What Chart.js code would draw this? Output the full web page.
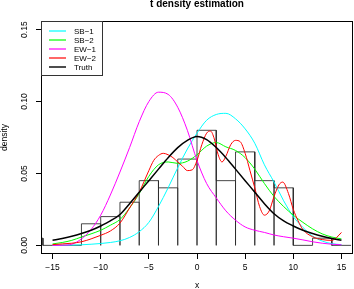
<!DOCTYPE html>
<html>
<head>
<meta charset="utf-8">
<script src="https://cdn.jsdelivr.net/npm/chart.js@4.4.0/dist/chart.umd.min.js"></script>
<style>
  html, body { margin: 0; padding: 0; background: #fff; }
  canvas { display: block; }
</style>
</head>
<body>
<canvas id="chart" width="354" height="289"></canvas>
<script>
'use strict';

var FONT = '"Liberation Sans", Arial, Helvetica, sans-serif';

// histogram of the sample (density scale), bins of width 2
var binEdges = [-18, -16, -14, -12, -10, -8, -6, -4, -2, 0, 2, 4, 6, 8, 10, 12, 14, 16];
var binDensity = [0.005, 0, 0, 0.015, 0.02, 0.03, 0.045, 0.04, 0.06, 0.08, 0.045, 0.065, 0.045, 0.04, 0, 0.005, 0];

var xGrid = [-15, -14, -13, -12, -11, -10, -9, -8, -7, -6, -5, -4, -3, -2, -1, 0,
  1, 2, 3, 4, 5, 6, 7, 8, 9, 10, 11, 12, 13, 14, 15];
var sb1 = [0, 0.0001, 0.0002, 0.0004, 0.0008, 0.0013, 0.002, 0.0032, 0.0055, 0.0095, 0.016, 0.027, 0.040, 0.054, 0.067, 0.078,
  0.087, 0.091, 0.0918, 0.088, 0.081, 0.071, 0.056, 0.044, 0.031, 0.020, 0.0125, 0.0065, 0.003, 0.0012, 0.0005];
var sb2 = [0.001, 0.002, 0.0035, 0.0058, 0.008, 0.0105, 0.014, 0.018, 0.026, 0.036, 0.048, 0.056, 0.058, 0.057, 0.0585, 0.063,
  0.069, 0.0715, 0.0685, 0.066, 0.061, 0.053, 0.043, 0.034, 0.027, 0.021, 0.016, 0.0115, 0.008, 0.0058, 0.0045];
var ew1 = [0, 0.0001, 0.0008, 0.0045, 0.011, 0.021, 0.035, 0.051, 0.068, 0.086, 0.100, 0.1065, 0.105, 0.096, 0.080, 0.059,
  0.043, 0.033, 0.024, 0.0175, 0.0128, 0.0105, 0.009, 0.0072, 0.006, 0.005, 0.0038, 0.0025, 0.0015, 0.0008, 0.0004];
var truth = [0.0035, 0.0048, 0.0063, 0.0082, 0.0105, 0.0135, 0.017, 0.0215, 0.029, 0.037, 0.045, 0.053, 0.061, 0.068, 0.073, 0.0757,
  0.0735, 0.068, 0.061, 0.053, 0.045, 0.037, 0.029, 0.022, 0.017, 0.0135, 0.0105, 0.0082, 0.0063, 0.0048, 0.0035];

// EW-2 wiggles, so it needs a finer grid
var ew2X = [-15, -14, -13, -12, -11, -10, -9, -8, -7, -6, -5, -4.5, -4, -3.5, -3, -2.5, -2, -1.5, -1, -0.5,
  0, 0.5, 1, 1.4, 1.8, 2.2, 2.6, 3, 3.5, 4, 4.5, 5, 5.5, 6, 6.5, 7, 7.5, 8, 8.5, 8.9,
  9.5, 10, 10.5, 11, 12, 13, 14, 14.5, 15];
var ew2 = [0.0005, 0.001, 0.0015, 0.0025, 0.0045, 0.007, 0.010, 0.0155, 0.026, 0.037, 0.052, 0.059, 0.0625, 0.064, 0.063, 0.061, 0.058, 0.055, 0.052, 0.0525,
  0.059, 0.070, 0.078, 0.0795, 0.074, 0.063, 0.058, 0.062, 0.070, 0.073, 0.072, 0.064, 0.052, 0.040, 0.027, 0.021, 0.024, 0.034, 0.042, 0.044,
  0.036, 0.025, 0.017, 0.011, 0.006, 0.004, 0.0035, 0.0055, 0.009];

var seriesNames = ['SB\u22121', 'SB\u22122', 'EW\u22121', 'EW\u22122', 'Truth'];
var seriesColors = ['#00ffff', '#00ff00', '#ff00ff', '#ff0000', '#000000'];

var xTicks = [-15, -10, -5, 0, 5, 10, 15];
var xTickLabels = ['\u221215', '\u221210', '\u22125', '0', '5', '10', '15'];
var yTicks = [0, 0.05, 0.1, 0.15];
var yTickLabels = ['0.00', '0.05', '0.10', '0.15'];

function toPoints(xs, ys) {
  return xs.map(function(x, i) { return {x: x, y: ys[i]}; });
}

// outline of every bar: up, across, down
function histPoints(edges, heights) {
  var pts = [];
  for (var i = 0; i < heights.length; i++) {
    pts.push({x: edges[i], y: 0});
    pts.push({x: edges[i], y: heights[i]});
    pts.push({x: edges[i + 1], y: heights[i]});
    pts.push({x: edges[i + 1], y: 0});
  }
  return pts;
}

function curve(idx, xs, ys, width) {
  return {
    label: seriesNames[idx],
    data: toPoints(xs, ys),
    borderColor: seriesColors[idx],
    borderWidth: width,
    pointRadius: 0,
    fill: false,
    cubicInterpolationMode: 'monotone',
    order: 4 - idx
  };
}

// plot box and the legend in the top-left corner
var boxAndLegend = {
  id: 'boxAndLegend',
  afterDatasetsDraw: function(chart) {
    var ctx = chart.ctx;
    var a = chart.chartArea;
    ctx.save();
    ctx.strokeStyle = '#000';
    ctx.lineWidth = 1;
    ctx.strokeRect(a.left + 0.5, a.top + 0.5, a.right - a.left - 1, a.bottom - a.top - 1);

    var lx = a.left, ly = a.top;
    ctx.fillStyle = '#fff';
    ctx.fillRect(lx + 0.5, ly + 0.5, 61, 54);
    ctx.strokeStyle = '#333';
    ctx.strokeRect(lx + 0.5, ly + 0.5, 61, 54);
    ctx.font = '8px ' + FONT;
    ctx.textBaseline = 'middle';
    ctx.textAlign = 'left';
    for (var i = 0; i < seriesNames.length; i++) {
      var yy = ly + 10 + i * 9;
      ctx.strokeStyle = seriesColors[i];
      ctx.lineWidth = i === 4 ? 1.4 : 1.2;
      ctx.beginPath();
      ctx.moveTo(lx + 8, yy);
      ctx.lineTo(lx + 25, yy);
      ctx.stroke();
      ctx.fillStyle = '#000';
      ctx.fillText(seriesNames[i], lx + 33, yy + 0.5);
    }
    ctx.restore();
  }
};

var datasets = [
  curve(4, xGrid, truth, 1.5),
  curve(3, ew2X, ew2, 1),
  curve(2, xGrid, ew1, 1),
  curve(1, xGrid, sb2, 1),
  curve(0, xGrid, sb1, 1),
  {
    label: 'hist',
    data: histPoints(binEdges, binDensity),
    borderColor: 'rgba(40,40,40,0.85)',
    borderWidth: 1,
    pointRadius: 0,
    tension: 0,
    fill: false,
    order: 10
  }
];

var ctx = document.getElementById('chart').getContext('2d');
var myChart = new Chart(ctx, {
  type: 'line',
  data: {datasets: datasets},
  plugins: [boxAndLegend],
  options: {
    responsive: false,
    animation: false,
    devicePixelRatio: 1,
    layout: {padding: {left: 0, right: 1, top: 0, bottom: 0}},
    plugins: {
      legend: {display: false},
      tooltip: {enabled: false},
      title: {
        display: true,
        text: 't density estimation',
        fullSize: false,
        color: '#000',
        font: {family: FONT, size: 10, weight: 'bold'},
        padding: {top: -2, bottom: 11}
      }
    },
    scales: {
      x: {
        type: 'linear',
        min: -16.2,
        max: 16.2,
        afterFit: function(s) { s.height = 35; },
        afterBuildTicks: function(s) { s.ticks = xTicks.map(function(v) { return {value: v}; }); },
        grid: {drawOnChartArea: false, tickLength: 5, color: '#000', lineWidth: 1},
        border: {display: false},
        ticks: {
          autoSkip: false,
          maxRotation: 0,
          padding: 4,
          color: '#000',
          font: {family: FONT, size: 8.5},
          callback: function(v, i) { return xTickLabels[i]; }
        },
        title: {display: true, text: 'x', color: '#000', font: {family: FONT, size: 8.5}, padding: {top: 0, bottom: -2}}
      },
      y: {
        type: 'linear',
        min: -0.006,
        max: 0.156,
        afterFit: function(s) { s.width = 41; },
        afterBuildTicks: function(s) { s.ticks = yTicks.map(function(v) { return {value: v}; }); },
        grid: {drawOnChartArea: false, tickLength: 5, color: '#000', lineWidth: 1},
        border: {display: false},
        ticks: {
          autoSkip: false,
          minRotation: 90,
          maxRotation: 90,
          crossAlign: 'center',
          padding: 3,
          color: '#000',
          font: {family: FONT, size: 8.5},
          callback: function(v, i) { return yTickLabels[i]; }
        },
        title: {display: true, text: 'density', color: '#000', font: {family: FONT, size: 8.5}, padding: {top: 0, bottom: 0}}
      }
    }
  }
});
</script>
</body>
</html>
